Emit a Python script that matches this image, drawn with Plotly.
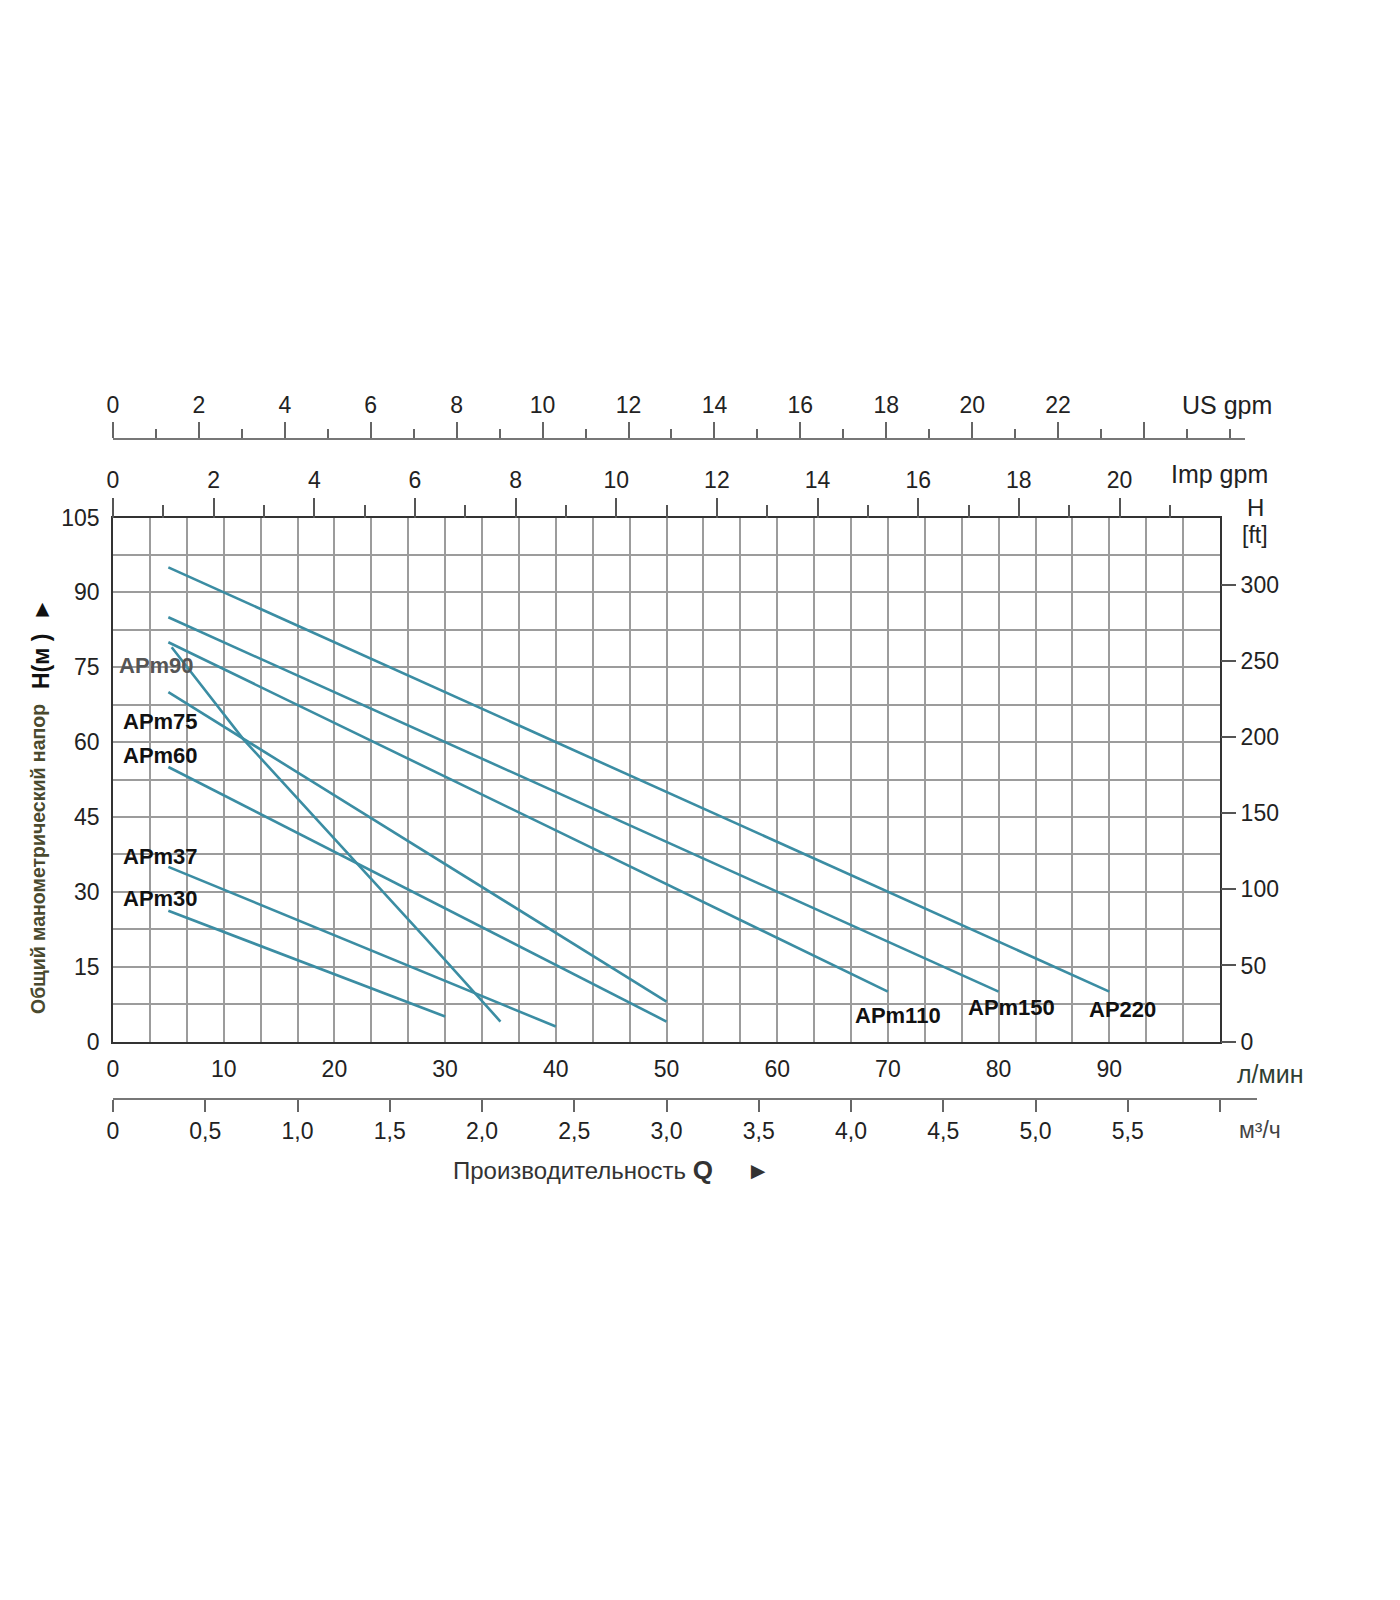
import plotly.graph_objects as go

# ---------------- data ----------------
series_names = ["AP220", "APm150", "APm110", "APm90", "APm75", "APm60", "APm37", "APm30"]
ap220_q = [5, 90];            ap220_h = [95, 10]
apm150_q = [5, 80];           apm150_h = [85, 10]
apm110_q = [5, 70];           apm110_h = [80, 10]
apm90_q = [5.3, 11.8, 28.3, 35]; apm90_h = [79, 60.5, 20.5, 4]
apm75_q = [5, 50];            apm75_h = [70, 8]
apm60_q = [5, 50];            apm60_h = [55, 4]
apm37_q = [5, 40];            apm37_h = [35, 3]
apm30_q = [5, 30];            apm30_h = [26.2, 5]

lmin_ticks = [0, 10, 20, 30, 40, 50, 60, 70, 80, 90]
h_m_ticks = [0, 15, 30, 45, 60, 75, 90, 105]
h_ft_ticks = [0, 50, 100, 150, 200, 250, 300]
usgpm_ticks = [0, 2, 4, 6, 8, 10, 12, 14, 16, 18, 20, 22, 24]
usgpm_labels = ["0", "2", "4", "6", "8", "10", "12", "14", "16", "18", "20", "22", ""]
impgpm_ticks = [0, 2, 4, 6, 8, 10, 12, 14, 16, 18, 20]
m3h_ticks = [0, 0.5, 1.0, 1.5, 2.0, 2.5, 3.0, 3.5, 4.0, 4.5, 5.0, 5.5, 6.0]
m3h_labels = ["0", "0,5", "1,0", "1,5", "2,0", "2,5", "3,0", "3,5", "4,0", "4,5", "5,0", "5,5", ""]

# label anchor positions (data units) for curve names
label_pos = {
    "APm90": (3.95, 75.4), "APm75": (4.3, 64.1), "APm60": (4.3, 57.4),
    "APm37": (4.3, 37.0), "APm30": (4.3, 28.7),
    "APm110": (70.9, 5.3), "APm150": (81.2, 6.9), "AP220": (91.2, 6.5),
}

# ---------------- layout geometry (screen px targets, page has 8px body offset) ----------------
W, H = 1400, 1600
OFF = 8
L, R, T, B = 105, 151, 392, 468
PW = W - L - R  # 1144
PH = H - T - B  # 740
scr_left, scr_right = 113, 1220
scr_top, scr_bot = 517.5, 1041.5


def px(xs):
    return (xs - OFF - L) / PW


def py(ys):
    return (H - B - (ys - OFF)) / PH


xdom_main = [0, px(scr_right)]
ydom_main = [py(scr_bot), py(scr_top)]

FONT = "Liberation Sans, Arial, sans-serif"
LINE_COLOR = "#3b8da3"
GRID = "#9c9c9c"
TXT = "#222222"

fig = go.Figure()

series = [
    (ap220_q, ap220_h), (apm150_q, apm150_h), (apm110_q, apm110_h), (apm90_q, apm90_h),
    (apm75_q, apm75_h), (apm60_q, apm60_h), (apm37_q, apm37_h), (apm30_q, apm30_h),
]
for name, (q, h) in zip(series_names, series):
    fig.add_trace(go.Scatter(x=q, y=h, mode="lines", name=name,
                             line=dict(color=LINE_COLOR, width=2.6),
                             showlegend=False, hoverinfo="skip"))

# dummy traces to realise the secondary axes
for xa in ["x2", "x3", "x4"]:
    fig.add_trace(go.Scatter(x=[0], y=[0], xaxis=xa, yaxis="y3", mode="markers",
                             marker=dict(opacity=0), showlegend=False, hoverinfo="skip"))
fig.add_trace(go.Scatter(x=[0], y=[0], xaxis="x", yaxis="y2", mode="markers",
                         marker=dict(opacity=0), showlegend=False, hoverinfo="skip"))

tickfont = dict(family=FONT, size=23, color=TXT)

fig.update_layout(
    width=W, height=H, autosize=False,
    margin=dict(l=L, r=R, t=T, b=B, pad=0),
    paper_bgcolor="white", plot_bgcolor="rgba(0,0,0,0)",
    font=dict(family=FONT, color=TXT),
    xaxis=dict(
        domain=xdom_main, range=[0, 100], anchor="y",
        tickmode="array", tickvals=lmin_ticks, ticktext=[str(v) for v in lmin_ticks],
        tickfont=tickfont, ticks="outside", ticklen=6, tickcolor="rgba(0,0,0,0)",
        showgrid=True, gridcolor=GRID, gridwidth=1.6,
        minor=dict(tick0=0, dtick=10 / 3, showgrid=True, gridcolor=GRID, gridwidth=1.6),
        showline=True, linecolor="#333333", linewidth=1.8, mirror=True, zeroline=False,
    ),
    yaxis=dict(
        domain=ydom_main, range=[0, 105], anchor="x",
        tickmode="array", tickvals=h_m_ticks, ticktext=[str(v) for v in h_m_ticks],
        tickfont=tickfont, ticks="outside", ticklen=7, tickcolor="rgba(0,0,0,0)",
        showgrid=True, gridcolor=GRID, gridwidth=1.6,
        minor=dict(tick0=0, dtick=7.5, showgrid=True, gridcolor=GRID, gridwidth=1.6),
        showline=True, linecolor="#333333", linewidth=1.8, mirror=True, zeroline=False,
    ),
    yaxis2=dict(
        overlaying="y", side="right", anchor="x", range=[0, 105 / 0.3048],
        tickmode="array", tickvals=h_ft_ticks, ticktext=[str(v) for v in h_ft_ticks],
        tickfont=tickfont, ticks="outside", ticklen=15, tickwidth=1.5, tickcolor="#555555",
        showgrid=False, zeroline=False, showline=False,
    ),
    yaxis3=dict(domain=[0, 1], range=[0, 1], visible=False, anchor="free", position=0),
    # US gpm
    xaxis2=dict(
        anchor="free", position=py(439), side="top",
        domain=[0, px(1245)], range=[0, (1245 - scr_left) / 42.96],
        tickmode="array", tickvals=usgpm_ticks, ticktext=usgpm_labels,
        tickfont=tickfont, ticks="outside", ticklen=16, tickwidth=1.5, tickcolor="#666666",
        minor=dict(tick0=0, dtick=1, ticks="outside", ticklen=9, tickwidth=1.5, tickcolor="#666666"),
        showline=True, linecolor="#777777", linewidth=1.5,
        showgrid=False, zeroline=False,
    ),
    # Imp gpm
    xaxis3=dict(
        anchor="free", position=ydom_main[1], side="top",
        domain=xdom_main, range=[0, 100 / 4.54609],
        tickmode="array", tickvals=impgpm_ticks, ticktext=[str(v) for v in impgpm_ticks],
        tickfont=tickfont, ticks="outside", ticklen=20, tickwidth=1.5, tickcolor="#555555",
        minor=dict(tick0=0, dtick=1, ticks="outside", ticklen=13, tickwidth=1.5, tickcolor="#555555"),
        showline=False, showgrid=False, zeroline=False,
    ),
    # m3/h
    xaxis4=dict(
        anchor="free", position=py(1099), side="bottom",
        domain=[0, 1], range=[0, 6 * PW / (scr_right - scr_left)],
        tickmode="array", tickvals=m3h_ticks, ticktext=m3h_labels,
        tickfont=tickfont, ticks="outside", ticklen=12, tickwidth=1.5, tickcolor="#666666",
        showline=True, linecolor="#777777", linewidth=1.5,
        showgrid=False, zeroline=False,
    ),
)

ann = []
for name, (ax_, ay_) in label_pos.items():
    ann.append(dict(x=ax_, y=ay_, xref="x", yref="y", text="<b>%s</b>" % name,
                    showarrow=False, xanchor="center", yanchor="middle",
                    font=dict(family=FONT, size=22,
                              color="#555555" if name == "APm90" else "#111111")))

ann += [
    dict(x=px(1227), y=py(405), xref="paper", yref="paper", text="US gpm", showarrow=False,
         xanchor="center", yanchor="middle", font=dict(family=FONT, size=25, color=TXT)),
    dict(x=px(1219), y=py(474), xref="paper", yref="paper", text="Imp gpm", showarrow=False,
         xanchor="center", yanchor="middle", font=dict(family=FONT, size=25, color=TXT)),
    dict(x=px(1255), y=py(507), xref="paper", yref="paper", text="H", showarrow=False,
         xanchor="center", yanchor="middle", font=dict(family=FONT, size=24, color=TXT)),
    dict(x=px(1255), y=py(535), xref="paper", yref="paper", text="[ft]", showarrow=False,
         xanchor="center", yanchor="middle", font=dict(family=FONT, size=23, color=TXT)),
    dict(x=px(1270), y=py(1074), xref="paper", yref="paper", text="л/мин", showarrow=False,
         xanchor="center", yanchor="middle", font=dict(family=FONT, size=25, color="#2f3f33")),
    dict(x=px(1260), y=py(1130), xref="paper", yref="paper", text="м³/ч", showarrow=False,
         xanchor="center", yanchor="middle", font=dict(family=FONT, size=23, color="#444444")),
    dict(x=px(611), y=py(1170), xref="paper", yref="paper",
         text="Производительность <b><span style='font-size:26px'>Q</span></b>     ►",
         showarrow=False, xanchor="center", yanchor="middle",
         font=dict(family=FONT, size=24, color="#333333")),
    dict(x=px(38), y=py(859), xref="paper", yref="paper", text="<b>Общий манометрический напор</b>",
         textangle=-90, showarrow=False, xanchor="center", yanchor="middle",
         font=dict(family=FONT, size=19.5, color="#4a4a2e")),
    dict(x=px(41), y=py(644), xref="paper", yref="paper", text="<b>H(м )</b>  ►",
         textangle=-90, showarrow=False, xanchor="center", yanchor="middle",
         font=dict(family=FONT, size=23, color="#111111")),
]
fig.update_layout(annotations=ann)

fig.write_html("out.html")
